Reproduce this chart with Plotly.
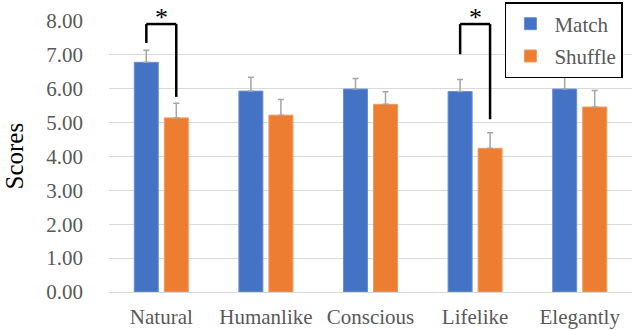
import plotly.graph_objects as go

categories = ["Natural", "Humanlike", "Conscious", "Lifelike", "Elegantly"]
match = [6.78, 5.93, 5.99, 5.92, 5.99]
match_err = [0.36, 0.41, 0.31, 0.35, 0.35]
shuffle = [5.14, 5.22, 5.54, 4.24, 5.46]
shuffle_err = [0.43, 0.46, 0.37, 0.46, 0.49]
y_ticks = [0, 1, 2, 3, 4, 5, 6, 7, 8]

# significance brackets: (category index, left end, right end)
brackets = [(0, 7.35, 5.76), (3, 7.02, 5.10)]
bracket_top = 7.91

serif = "Liberation Serif"

fig = go.Figure()
fig.add_trace(go.Bar(
    x=categories, y=match, name="Match", legendgroup="a",
    marker=dict(color="#4472C4", line=dict(color="#6a8fd6", width=1)),
    error_y=dict(type="data", array=match_err, arrayminus=[0] * 5,
                 symmetric=False, color="#a5a5a5", thickness=1.5, width=3),
))
fig.add_trace(go.Bar(
    x=categories, y=shuffle, name="Shuffle", legendgroup="b",
    marker=dict(color="#ED7D31", line=dict(color="#f29a5e", width=1)),
    error_y=dict(type="data", array=shuffle_err, arrayminus=[0] * 5,
                 symmetric=False, color="#a5a5a5", thickness=1.5, width=3),
))

off = 0.143
for i, left, right in brackets:
    xs = [i - off, i - off, i + off, i + off]
    ys = [left, bracket_top, bracket_top, right]
    for k in range(3):
        fig.add_shape(type="line", xref="x", yref="y",
                      x0=xs[k], y0=ys[k], x1=xs[k + 1], y1=ys[k + 1],
                      line=dict(color="black", width=2.5))
    fig.add_annotation(x=i, y=bracket_top, yanchor="bottom", yshift=-10,
                       text="*", showarrow=False,
                       font=dict(family=serif, size=26, color="black"))

# y axis title placed by hand
fig.add_annotation(x=-0.1816, y=0.5, xref="paper", yref="paper", textangle=-90,
                   xanchor="center", yanchor="middle",
                   text="Scores", showarrow=False,
                   font=dict(family=serif, size=25, color="black"))

fig.update_layout(
    width=640, height=330,
    margin=dict(l=109, r=8, t=21, b=38, autoexpand=False),
    plot_bgcolor="white", paper_bgcolor="white",
    bargap=0.426, bargroupgap=0.2,
    font=dict(family=serif, size=21, color="#595959"),
    showlegend=True,
    legend=dict(x=0.757, y=1.07, xanchor="left", yanchor="top",
                bordercolor="black", borderwidth=1.5, bgcolor="white",
                traceorder="grouped", tracegroupgap=2, itemwidth=38,
                font=dict(family=serif, size=21, color="#595959")),
)
fig.update_xaxes(showgrid=False, showline=False, ticks="", ticklabelstandoff=10,
                 automargin=False,
                 tickfont=dict(family=serif, size=21, color="#595959"))
fig.update_yaxes(
    range=[0, 8], tickvals=y_ticks, tickformat=".2f", automargin=False,
    tickfont=dict(family=serif, size=21, color="#595959"),
    showgrid=True, gridcolor="#d9d9d9", gridwidth=1,
    zeroline=True, zerolinecolor="#d9d9d9", zerolinewidth=1,
    ticklabelstandoff=25,
)

# drop the browser's default page margin so the figure sits at the corner
fig.write_html("out.html", config={"displayModeBar": False},
               post_script="document.body.style.margin='0';")
